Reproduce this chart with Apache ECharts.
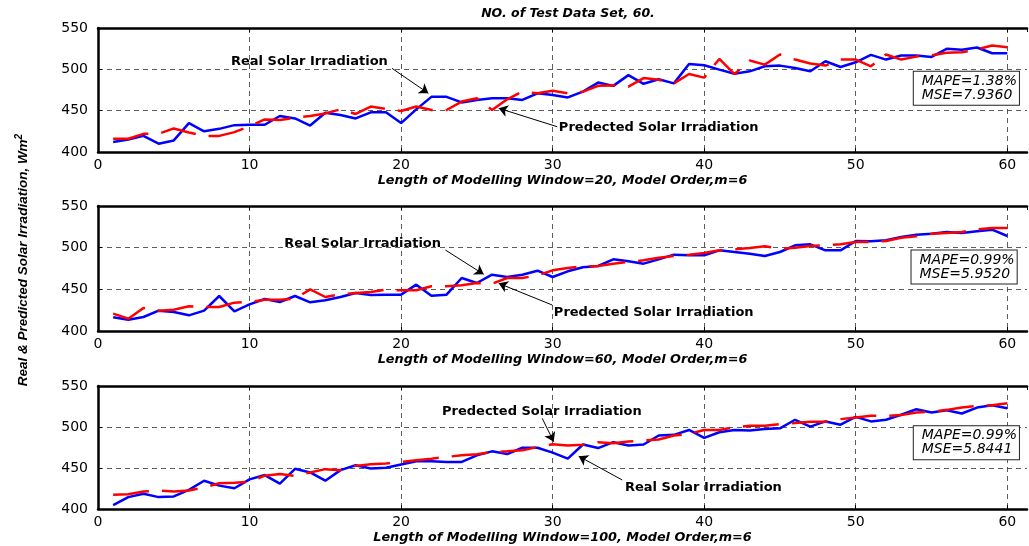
<!DOCTYPE html>
<html><head><meta charset="utf-8">
<script src="https://cdn.jsdelivr.net/npm/echarts@6/dist/echarts.min.js"></script>
<style>html,body{margin:0;padding:0;background:#fff}#c{width:1029px;height:546px}</style>
</head><body><div id="c"></div>
<script>
const steps = [1,2,3,4,5,6,7,8,9,10,11,12,13,14,15,16,17,18,19,20,21,22,23,24,25,26,27,28,29,30,31,32,33,34,35,36,37,38,39,40,41,42,43,44,45,46,47,48,49,50,51,52,53,54,55,56,57,58,59,60];
const xTicks = [0,10,20,30,40,50,60];
const yTicks = [400,450,500,550];

const real1 = [412,415,419.5,410,414,435,425,428,432.5,433,433,443.5,440.6,432,447.5,444.7,440.6,448,448,435,451.6,466.7,466.7,460,463,465,465,463,471,469,466,473,484,480,493,482.5,488,483,506.5,505,499.6,494.7,497.6,503.7,504.5,501.6,497.6,509.8,502.8,508.5,517.5,511.8,516.7,516.7,515,524.8,523.6,526.4,519.5,519.5];
const pred1 = [416,416,422,422,428.5,423.6,419.5,419.5,424,431,439.4,438.6,441.5,443.5,446.7,451.6,446,455,452,449.6,455,450.8,450.8,461,465,450.8,463.8,473,471,474,471,473,480,480.5,479,489.4,487.4,483,494.3,490,512.6,494.3,510.6,505.7,518,511.8,507,504.5,511.8,511.8,503.7,518,511.8,515.4,517,520,520.7,524,528.9,526.8];
const real2 = [416.4,413.6,416.8,424.4,422.8,418.8,424.4,442,423.6,432,438.4,434.8,442,434.4,436.8,440.8,445.6,443.2,443.6,443.6,455.6,442.4,443.6,463.6,457.6,467.6,464.8,467.6,472.4,464.8,471.6,476.4,478,486,483.6,480.8,486,491.6,490.8,490.8,496.8,494.8,492.8,490,494.8,502.8,504,496.8,496.8,508,507.6,508.8,512.8,515.6,516.8,518.8,517.6,519.6,521.6,514];
const pred2 = [420.8,414.8,427.6,424.4,425.6,429.6,428.8,428.8,434,434.8,437.6,437.6,438.8,450,440.8,444,445.6,446.8,449.6,448.8,448.8,453.6,453.6,454.8,457.6,456.8,463.6,463.6,466.8,472.8,475.6,477.6,478,480.8,482.8,484.8,488,490,491.6,493.6,496.8,498,499.6,501.6,498.8,500,502,502.8,504,506.8,506.8,508,512,513.6,516.8,517.6,518.8,522,523.6,523.6];
const real3 = [404.8,414.5,418.5,414.5,415.3,423.3,434.5,428.5,425.3,436.1,441.4,430.9,449,444.6,434.5,447.4,453.4,449.4,450.2,454.2,458.2,458.2,457.4,457.4,465.5,470.3,467,474.7,474.7,468.7,461.4,478.7,474.3,481.5,477.5,478.7,489.6,490.4,496.4,486.7,493.6,496.4,495.6,497.6,498.4,508.8,500.4,506.8,502.8,512.4,506.8,508.8,514.9,521.7,517.7,520.5,516.5,523.7,526.5,522.9];
const pred3 = [417.3,418.1,421.3,422.5,421.3,422.5,426.5,431.3,432.1,433.3,440.6,442.6,440.2,444.6,448.6,447.4,452.6,454.6,455.4,457.4,459.4,461.4,463.5,465.5,466.7,469.5,470.3,471.5,475.5,478.9,477.5,478.3,481.5,480.3,482.3,483.5,484.7,489.6,491.6,496.4,496.4,499.6,501.6,501.6,503.6,504.8,506.4,506.4,509.6,511.6,513.7,513.7,514.5,517.7,518.5,520.9,523.7,525.7,526.5,528.9];

const xNames = ['Length of Modelling Window=20, Model Order,m=6','Length of Modelling Window=60, Model Order,m=6','Length of Modelling Window=100, Model Order,m=6'];
const statsText = ['MAPE=1.38%\nMSE=7.9360','MAPE=0.99%\nMSE=5.9520','MAPE=0.99%\nMSE=5.8441'];
const titleText = 'NO. of Test Data Set, 60.';
const yName = 'Real & Predicted Solar Irradiation, Wm';
const realLabel = 'Real Solar Irradiation';
const predLabel = 'Predected Solar Irradiation';

// annotation anchors in data coordinates
const notes = [
  {realText:[13.95,509.2], realArrow:[[19.4,501.2],[21.8,471]], predText:[37.0,429.4], predArrow:[[30.3,430.6],[26.44,452.9]], box:[53.83,477.1]},
  {realText:[17.46,505.2], realArrow:[[22.92,497.2],[25.45,468]], predText:[36.67,422.4], predArrow:[[29.97,431.2],[26.44,457.2]], box:[53.68,476.8]},
  {realText:[39.95,426], realArrow:[[34.59,435.4],[31.72,464.4]], predText:[29.29,518.7], predArrow:[[29.31,510.6],[30.07,482.1]], box:[53.83,480.7]}
];

const FF = 'DejaVu Sans';
const reals = [real1, real2, real3];
const preds = [pred1, pred2, pred3];
const grids = [
  {left:98, top:28, width:929, height:124},
  {left:98, top:206, width:929, height:125},
  {left:98, top:386, width:929, height:123}
];
const XMAX = 61.3;
const pairs = v => steps.map((s,i)=>[s, v[i]]);

const xAxis = [], yAxis = [], series = [];
const gridLine = {show:true, showMinLine:false, showMaxLine:false, lineStyle:{type:[5,4], color:'#333', width:0.8}};
for (let i=0;i<3;i++){
  xAxis.push({gridIndex:i, type:'value', min:xTicks[0], max:XMAX, interval:xTicks[1]-xTicks[0],
    axisLine:{show:true, onZero:false, lineStyle:{color:'#000', width:2.5}},
    axisTick:{show:true, inside:true, length:4, lineStyle:{color:'#000', width:1}},
    axisLabel:{color:'#000', fontSize:14, fontFamily:FF, margin:6, showMaxLabel:false},
    splitLine:gridLine,
    name:xNames[i], nameLocation:'middle', nameGap:22,
    nameTextStyle:{color:'#000', fontSize:12.8, fontWeight:'bold', fontStyle:'italic', fontFamily:FF}
  });
  xAxis.push({gridIndex:i, type:'value', position:'top', min:xTicks[0], max:XMAX, interval:xTicks[1]-xTicks[0],
    axisLine:{show:true, onZero:false, lineStyle:{color:'#000', width:2.5}},
    axisTick:{show:true, inside:true, length:4, lineStyle:{color:'#000', width:1}},
    axisLabel:{show:false}, splitLine:{show:false}
  });
  yAxis.push({gridIndex:i, type:'value', min:yTicks[0], max:yTicks[yTicks.length-1], interval:yTicks[1]-yTicks[0],
    axisLine:{show:true, onZero:false, lineStyle:{color:'#000', width:2.5}},
    axisTick:{show:true, inside:true, length:4, lineStyle:{color:'#000', width:1}},
    axisLabel:{color:'#000', fontSize:14, fontFamily:FF, margin:10},
    splitLine:gridLine
  });
  const n = notes[i];
  series.push({type:'line', xAxisIndex:2*i, yAxisIndex:i, data:pairs(reals[i]), symbol:'none', animation:false,
    lineStyle:{color:'#0000ff', width:2.5}, z:2});
  series.push({type:'line', xAxisIndex:2*i, yAxisIndex:i, data:pairs(preds[i]), symbol:'none', animation:false,
    lineStyle:{color:'#ff0000', width:2.5, type:[36,13]}, z:3,
    markLine:{silent:true, animation:false, symbol:['none','arrow'], symbolSize:9, label:{show:false},
      lineStyle:{color:'#000', width:1, type:'solid'},
      data:[[{coord:n.realArrow[0]},{coord:n.realArrow[1]}],[{coord:n.predArrow[0]},{coord:n.predArrow[1]}]]},
    markPoint:{silent:true, animation:false, symbol:'circle', symbolSize:0,
      label:{show:true, position:'inside', color:'#000', fontFamily:FF, fontSize:13, fontWeight:'bold'},
      data:[
        {coord:n.realText, label:{formatter:realLabel}},
        {coord:n.predText, label:{formatter:predLabel}},
        {coord:n.box, label:{formatter:statsText[i], align:'left', verticalAlign:'middle', fontWeight:'normal', fontStyle:'italic', fontSize:14, lineHeight:14,
          backgroundColor:'#fff', borderColor:'#222', borderWidth:1, padding:[3,2,2,8]}}
      ]}
  });
}

const chart = echarts.init(document.getElementById('c'), null, {renderer:'canvas'});
chart.setOption({
  animation:false,
  backgroundColor:'#fff',
  title:{text:titleText, left:568, top:7, textAlign:'center', padding:0,
    textStyle:{fontSize:12.5, fontWeight:'bold', fontStyle:'italic', fontFamily:FF, color:'#000'}},
  grid:grids, xAxis:xAxis, yAxis:yAxis, series:series,
  graphic:[{type:'text', x:22, y:260, rotation:Math.PI/2, silent:true,
    style:{text:'{a|'+yName+'}{b|2}', align:'center', verticalAlign:'middle',
      rich:{a:{fontSize:13.5, fontWeight:'bold', fontStyle:'italic', fontFamily:'Liberation Sans', fill:'#000', lineHeight:16, verticalAlign:'bottom'},
            b:{fontSize:10, fontWeight:'bold', fontStyle:'italic', fontFamily:'Liberation Sans', fill:'#000', lineHeight:10, verticalAlign:'top'}}}}]
});
</script>
</body></html>
